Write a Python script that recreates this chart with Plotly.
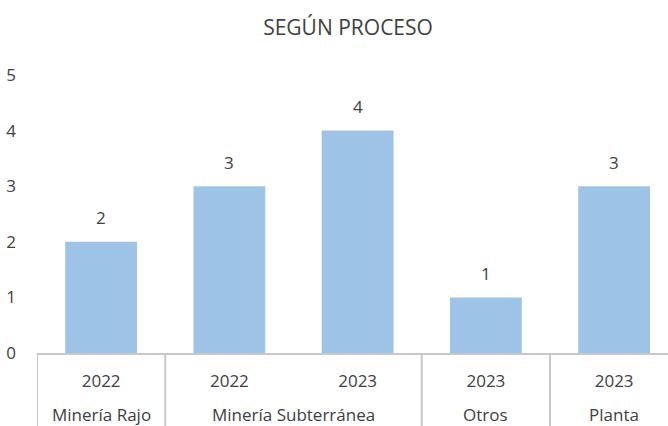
import plotly.graph_objects as go

groups = ["Minería Rajo", "Minería Subterránea", "Minería Subterránea", "Otros", "Planta"]
years = ["2022", "2022", "2023", "2023", "2023"]
values = [2, 3, 4, 1, 3]
y_ticks = [0, 1, 2, 3, 4, 5]

FONT = "Open Sans"
TXT = "#404040"
GRID = "#C8C8C8"
FS = 17

idx = list(range(len(values)))

fig = go.Figure(go.Bar(
    x=idx,
    y=values,
    marker=dict(color="#9DC3E6", line=dict(width=0)),
    width=0.56,
    hoverinfo="y",
))

# data labels
for i, v in zip(idx, values):
    fig.add_annotation(x=i, y=v, xref="x", yref="y", text=str(v), showarrow=False,
                       yanchor="middle", yshift=24,
                       font=dict(family=FONT, size=FS, color=TXT))

# group labels and dividers
blocks = []
for i, g in enumerate(groups):
    if blocks and blocks[-1][0] == g:
        blocks[-1][2] = i
    else:
        blocks.append([g, i, i])
for g, s, e in blocks:
    fig.add_annotation(x=(s + e) / 2, y=0, xref="x", yref="paper", text=g, showarrow=False,
                       yanchor="middle", yshift=-61,
                       font=dict(family=FONT, size=FS, color=TXT))
    fig.add_shape(type="line", xref="x", yref="paper", x0=s - 0.5, x1=s - 0.5, y0=0, y1=-0.3,
                  line=dict(color=GRID, width=2))
fig.add_shape(type="line", xref="x", yref="paper", x0=blocks[-1][2] + 0.5, x1=blocks[-1][2] + 0.5,
              y0=0, y1=-0.3, line=dict(color=GRID, width=2))

fig.update_layout(
    width=668, height=426,
    margin=dict(l=37, r=0, t=75, b=73),
    paper_bgcolor="white", plot_bgcolor="white",
    showlegend=False,
    title=dict(text="SEGÚN PROCESO", x=0.521, xanchor="center", y=0.934, yanchor="middle",
               font=dict(family=FONT, size=21, color=TXT)),
    font=dict(family=FONT, size=FS, color=TXT),
)
fig.update_xaxes(
    range=[-0.5, 4.42], tickvals=idx, ticktext=years,
    showline=True, linecolor=GRID, linewidth=2,
    ticks="", showgrid=False, zeroline=False, automargin=False,
    ticklabelstandoff=12,
    tickfont=dict(family=FONT, size=FS, color=TXT),
)
fig.update_yaxes(
    range=[0, 5], tickvals=y_ticks, showgrid=False, zeroline=False,
    showline=False, ticks="", automargin=False,
    ticklabelstandoff=20,
    tickfont=dict(family=FONT, size=FS, color=TXT),
)
fig.write_html("out.html", config={"displayModeBar": False},
               post_script="document.body.style.margin='0';document.body.style.padding='0';")
